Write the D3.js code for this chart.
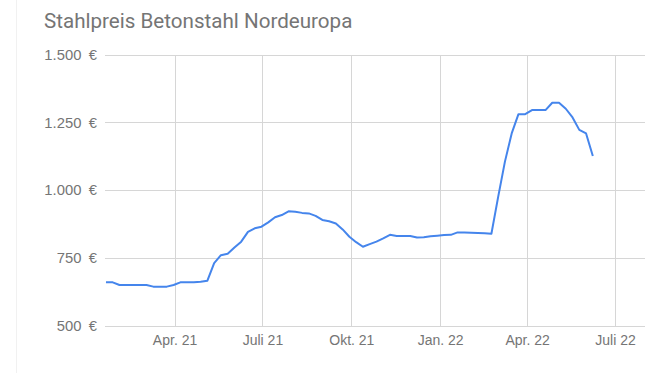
<!DOCTYPE html>
<html lang="de">
<head>
<meta charset="utf-8">
<title>Stahlpreis Betonstahl Nordeuropa</title>
<style>
  html, body { margin: 0; padding: 0; background: #fff; }
  svg { display: block; font-family: Roboto, "Noto Sans", sans-serif; }
  .title { fill: #757575; font-size: 20.6px; }
  .grid line { stroke: #d6d6d6; stroke-width: 1px; shape-rendering: crispEdges; }
  .axis text { fill: #757575; font-size: 14px; }
  .axis--y text { font-size: 14.8px; }
  .price { fill: none; stroke: #4585ec; stroke-width: 2px; stroke-linejoin: round; }
</style>
</head>
<body>
<div id="chart"></div>
<script src="https://cdn.jsdelivr.net/npm/d3@7"></script>
<script>
// weekly price points (EUR/t)
var dates = [
  "2021-01-20","2021-01-27","2021-02-03","2021-02-10","2021-02-17","2021-02-24",
  "2021-03-03","2021-03-10","2021-03-17","2021-03-24","2021-03-31","2021-04-07",
  "2021-04-14","2021-04-21","2021-04-28","2021-05-05","2021-05-12","2021-05-19",
  "2021-05-26","2021-06-02","2021-06-09","2021-06-16","2021-06-23","2021-06-30",
  "2021-07-07","2021-07-14","2021-07-21","2021-07-28","2021-08-04","2021-08-11",
  "2021-08-18","2021-08-25","2021-09-01","2021-09-08","2021-09-15","2021-09-22",
  "2021-09-29","2021-10-06","2021-10-13","2021-10-20","2021-10-27","2021-11-03",
  "2021-11-10","2021-11-17","2021-11-24","2021-12-01","2021-12-08","2021-12-15",
  "2021-12-22","2021-12-29","2022-01-05","2022-01-12","2022-01-19","2022-01-26",
  "2022-02-02","2022-02-09","2022-02-16","2022-02-23","2022-03-02","2022-03-09",
  "2022-03-16","2022-03-23","2022-03-30","2022-04-06","2022-04-13","2022-04-20",
  "2022-04-27","2022-05-04","2022-05-11","2022-05-18","2022-05-25","2022-06-01",
  "2022-06-08"
];
var prices = [
  660, 660, 650, 650, 650, 650,
  650, 644, 644, 644, 650, 660,
  660, 660, 662, 666, 731, 760,
  765, 788, 810, 846, 859, 865,
  881, 900, 908, 922, 920, 916,
  914, 905, 890, 885, 877, 855,
  828, 808, 791, 801, 810, 822,
  835, 831, 831, 831, 825, 826,
  830, 832, 834, 835, 844, 844,
  843, 842, 841, 839, 975, 1105,
  1209, 1280, 1280, 1295, 1295, 1295,
  1322, 1322, 1300, 1268, 1222, 1209,
  1126
];

var xTickDates = ["2021-04-01","2021-07-01","2021-10-01","2022-01-01","2022-04-01","2022-07-01"];
var xTickLabels = ["Apr. 21","Juli 21","Okt. 21","Jan. 22","Apr. 22","Juli 22"];
var yTicks = [500, 750, 1000, 1250, 1500];

var width = 666, height = 373;
var plot = {left: 105, right: 645, top: 54.5, bottom: 325.7};

var parseDate = d3.timeParse("%Y-%m-%d");
var fmtEuro = function(v) {
  return d3.format(",")(v).replace(/,/g, ".") + "\u2002€";
};

var data = dates.map(function(d, i) {
  return {date: parseDate(d), price: prices[i]};
});

var x = d3.scaleTime()
    .domain([parseDate("2021-01-19"), parseDate("2022-08-01")])
    .range([plot.left, plot.right]);

var y = d3.scaleLinear()
    .domain([500, 1500])
    .range([plot.bottom, plot.top]);

var svg = d3.select("#chart").append("svg")
    .attr("width", width)
    .attr("height", height);

// faint panel edge on the left
svg.append("line")
    .attr("x1", 16.5).attr("x2", 16.5)
    .attr("y1", 0).attr("y2", height)
    .attr("stroke", "#f1f1f1");

svg.append("text")
    .attr("class", "title")
    .attr("x", 44)
    .attr("y", 27.5)
    .text("Stahlpreis Betonstahl Nordeuropa");

// horizontal grid + y labels
var yAxis = d3.axisLeft(y)
    .tickValues(yTicks)
    .tickSize(-(plot.right - plot.left))
    .tickPadding(8)
    .tickFormat(fmtEuro);

svg.append("g")
    .attr("class", "axis axis--y grid")
    .attr("transform", "translate(" + plot.left + ",0)")
    .call(yAxis)
    .call(function(g) { g.select(".domain").remove(); });

// vertical grid + x labels
var xTicks = xTickDates.map(parseDate);
var xAxis = d3.axisBottom(x)
    .tickValues(xTicks)
    .tickSize(-(plot.bottom - plot.top))
    .tickPadding(9)
    .tickFormat(function(d, i) { return xTickLabels[i]; });

svg.append("g")
    .attr("class", "axis axis--x grid")
    .attr("transform", "translate(0," + plot.bottom + ")")
    .call(xAxis)
    .call(function(g) { g.select(".domain").remove(); });

var line = d3.line()
    .x(function(d) { return x(d.date); })
    .y(function(d) { return y(d.price); });

svg.append("path")
    .datum(data)
    .attr("class", "price")
    .attr("d", line);
</script>
</body>
</html>
